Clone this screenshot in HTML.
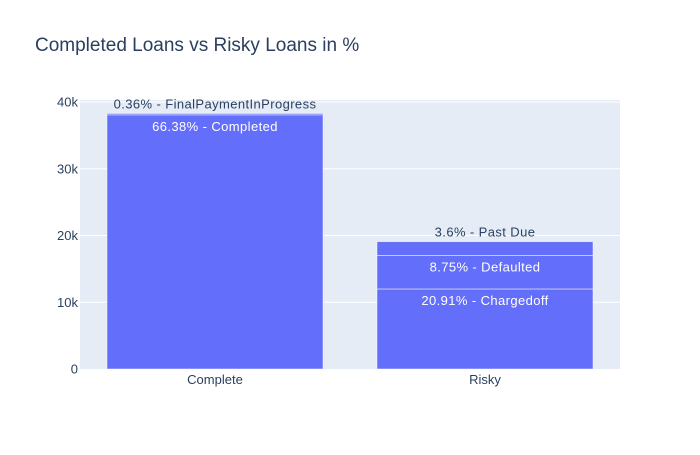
<!DOCTYPE html>
<html><head><meta charset="utf-8"><style>
body{margin:0;background:#fff;font-family:"Liberation Sans",sans-serif}
</style></head><body>
<svg id="chart" width="700" height="450" xmlns="http://www.w3.org/2000/svg">
<rect width="700" height="450" fill="#fff"/>
<text x="35" y="51" font-size="19" fill="#2a3f5f">Completed Loans vs Risky Loans in %</text>
<rect x="80" y="100" width="540" height="269" fill="#e5ecf6"/>
<g id="grid"></g><g id="bars"></g><g id="labels"></g>
</svg>
<script>
const categories = ["Complete", "Risky"];
const segCategory = ["Complete", "Complete", "Risky", "Risky", "Risky"];
const segValues = [38074, 205, 11992, 5018, 2067];
const segLabels = ["66.38% - Completed", "0.36% - FinalPaymentInProgress", "20.91% - Chargedoff", "8.75% - Defaulted", "3.6% - Past Due"];
const segOutside = [false, true, false, false, true];
const yTicks = [0, 10000, 20000, 30000, 40000];
const yTickLabels = ["0", "10k", "20k", "30k", "40k"];

const NS = "http://www.w3.org/2000/svg";
const x0 = 80, x1 = 620, yBase = 369, yTop = 102;
const yScale = v => yBase - v / 40000 * (yBase - yTop);
const band = (x1 - x0) / categories.length;
const xCenter = c => x0 + band * (categories.indexOf(c) + 0.5);
const barW = band * 0.8;
function mk(tag, attrs, parent) { const e = document.createElementNS(NS, tag); for (const k in attrs) e.setAttribute(k, attrs[k]); parent.appendChild(e); return e; }
const grid = document.getElementById("grid"), bars = document.getElementById("bars"), labels = document.getElementById("labels");
yTicks.forEach((t, i) => {
  const y = yScale(t);
  if (t > 0) {
    const l = mk("line", {x1: x0, x2: x1, y1: y, y2: y, stroke: "#fff", "stroke-width": 1}, grid);
    
    
  }
  const tx = mk("text", {x: 78, y: y + 4.5, "text-anchor": "end", "font-size": 13, fill: "#2a3f5f"}, grid);
  tx.textContent = yTickLabels[i];
  
  
});
categories.forEach(c => {
  const tx = mk("text", {x: xCenter(c), y: 384, "text-anchor": "middle", "font-size": 13, fill: "#2a3f5f"}, grid);
  tx.textContent = c;
  
  
});
const cum = {};
segValues.forEach((v, i) => {
  const c = segCategory[i];
  const base = cum[c] || 0; cum[c] = base + v;
  const yT = yScale(base + v), yB = yScale(base);
  const r = mk("rect", {x: xCenter(c) - barW / 2, y: yT, width: barW, height: yB - yT, fill: "#636efa", stroke: "rgba(255,255,255,0.6)", "stroke-width": 0.8}, bars);
  
  
  const tx = mk("text", {x: xCenter(c), y: segOutside[i] ? yT - 5 : yT + 16, "text-anchor": "middle", "font-size": 13, "letter-spacing": 0.4, fill: segOutside[i] ? "#2a3f5f" : "#fff"}, labels);
  tx.textContent = segLabels[i];
  
  
});
</script>
</body></html>
